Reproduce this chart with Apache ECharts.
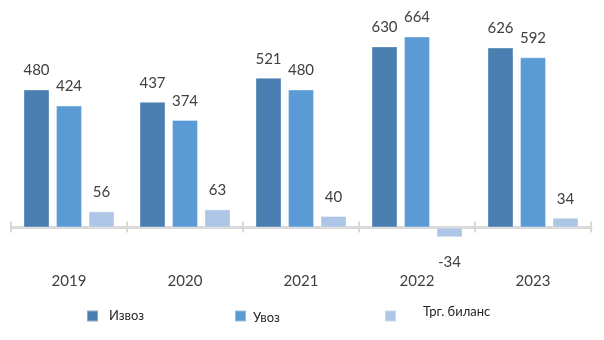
<!DOCTYPE html>
<html>
<head>
<meta charset="utf-8">
<script src="https://cdn.jsdelivr.net/npm/echarts@6/dist/echarts.min.js"></script>
<style>
html,body{margin:0;padding:0;background:#fff;}
#c{width:604px;height:340px;}
</style>
</head>
<body>
<div id="c"></div>
<script>
var categories = ['2019', '2020', '2021', '2022', '2023'];
var seriesNames = ['Извоз', 'Увоз', 'Трг. биланс'];
var izvoz = [480, 437, 521, 630, 626];
var uvoz = [424, 374, 480, 664, 592];
var bilans = [56, 63, 40, -34, 34];
var colors = ['#4a7eb0', '#5b9bd5', '#adc6e6'];

var chart = echarts.init(document.getElementById('c'), null, {renderer: 'canvas'});
var font = 'Lato, "Liberation Sans", sans-serif';
var labelCommon = {
  show: true, position: 'top', distance: 11.5,
  color: '#404040', fontSize: 15, fontFamily: font
};
function mkSeries(name, vals, color) {
  return {
    name: name, type: 'bar', xAxisIndex: 0, yAxisIndex: 0,
    barWidth: 26, barGap: '25%', clip: false,
    itemStyle: {color: color, borderColor: 'rgba(255,255,255,0.35)', borderWidth: 1},
    label: labelCommon,
    data: vals.map(function (v) {
      return v < 0 ? {value: v, label: {position: 'bottom', distance: 17}} : v;
    })
  };
}
function mkLegend(name, left, top, padLeft, fmt, rich) {
  return {
    data: [name], left: left, top: top, padding: 0,
    icon: 'rect', itemWidth: 11, itemHeight: 11, selectedMode: false,
    formatter: fmt,
    textStyle: {color: '#262626', fontSize: 13, fontFamily: font, lineHeight: 16,
      padding: [0, 0, 0, padLeft], rich: rich}
  };
}
var richA = {a: {color: '#262626', fontSize: 13, fontFamily: font, lineHeight: 16}};
chart.setOption({
  animation: false,
  color: colors,
  grid: {left: 11, right: 13, top: 26.25, bottom: 112.5, containLabel: false},
  legend: [
    mkLegend(seriesNames[0], 86, 308, 6, '{name}', undefined),
    mkLegend(seriesNames[1], 234, 306.5, 2, '{b| }\n{a|{name}}',
      {a: richA.a, b: {fontSize: 3, lineHeight: 3}}),
    mkLegend(seriesNames[2], 384, 303.5, 22, '{a|{name}}\n{b| }',
      {a: richA.a, b: {fontSize: 9, lineHeight: 9}})
  ],
  xAxis: [{
    type: 'category', data: categories, position: 'bottom',
    axisLine: {show: true, onZero: false, lineStyle: {color: '#d9d9d9', width: 3}},
    axisTick: {show: true, inside: false, length: 5, lineStyle: {color: '#d9d9d9', width: 2}},
    axisLabel: {color: '#404040', fontSize: 15, fontFamily: font, margin: 46},
    splitLine: {show: false}
  }, {
    type: 'category', data: categories, position: 'bottom',
    axisLine: {show: false, onZero: false},
    axisTick: {show: true, inside: true, length: 6, lineStyle: {color: '#d9d9d9', width: 2}},
    axisLabel: {show: false},
    splitLine: {show: false}
  }],
  yAxis: {
    type: 'value', min: 0, max: 700, interval: 100, show: false,
    splitLine: {show: false}
  },
  series: [
    mkSeries(seriesNames[0], izvoz, colors[0]),
    mkSeries(seriesNames[1], uvoz, colors[1]),
    mkSeries(seriesNames[2], bilans, colors[2])
  ]
});
</script>
</body>
</html>
